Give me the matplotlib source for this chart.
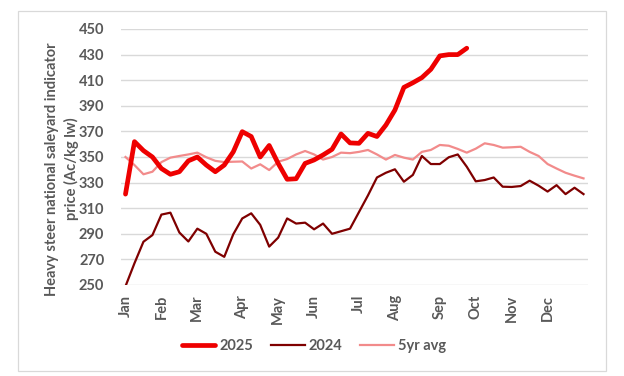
import matplotlib
matplotlib.use("Agg")
import matplotlib.pyplot as plt
from matplotlib.patches import Rectangle

# ---- data ----
months = ["Jan", "Feb", "Mar", "Apr", "May", "Jun", "Jul", "Aug", "Sep", "Oct", "Nov", "Dec"]
month_week_index = [0, 4, 8, 13, 17, 21, 26, 30, 35, 39, 43, 47]

y2025 = [321, 362, 355, 350, 341, 336.5, 338.5, 347, 350, 343.7, 338.5, 343.7, 354,
         369.8, 366, 350, 359, 345, 332.6, 333, 345, 347.7, 351.6, 356, 368, 361,
         360.7, 368.5, 366, 375, 386.7, 404.4, 408, 412, 418.5, 429, 430, 430, 435]

y2024 = [249, 267, 283.8, 289, 305, 306.5, 291, 284, 294, 290, 276, 272, 289.6,
         302, 306, 297, 280, 287, 302, 298, 298.7, 293.5, 298, 290, 292, 294,
         307, 320, 334, 337.7, 340.4, 330.7, 336, 350.8, 344.5, 344.5, 349.8, 352,
         342.4, 331, 332, 334, 326.8, 326.6, 327.3, 331.5, 327.6, 323, 328, 321,
         326, 321]

avg5 = [350, 343.7, 336.5, 338.5, 346, 349.5, 350.8, 352, 353.4, 349.8, 347, 346,
        346.3, 346.5, 341, 344.3, 339.8, 346.3, 348.4, 352, 354.7, 352, 348, 350,
        353.4, 353, 354, 355.5, 352, 348, 351.6, 349.5, 348, 354, 355.5, 359.4,
        358.8, 356.3, 353.4, 356.5, 360.7, 359.4, 357.3, 357.6, 358, 354, 350.8,
        344.5, 341, 337.7, 335.4, 333.3]

y_ticks = [250, 270, 290, 310, 330, 350, 370, 390, 410, 430, 450]
series_labels = ["2025", "2024", "5yr avg"]

# ---- style ----
txt_col = "#595959"
grid_col = "#d9d9d9"
font = ["Lato", "DejaVu Sans"]
plt.rcParams["font.family"] = font

fig = plt.figure(figsize=(6.24, 3.76), dpi=100)
fig.patches.append(Rectangle((18 / 624, 1 - 371 / 376), (606 - 18) / 624, (371 - 11) / 376,
                             transform=fig.transFigure, fill=False,
                             edgecolor=grid_col, linewidth=0.9))

ax = fig.add_axes([121 / 624, 1 - 285 / 376, (588 - 121) / 624, (285 - 29) / 376])

l3, = ax.plot(range(len(avg5)), avg5, color="#F28B8B", lw=1.6, solid_joinstyle="round")
l2, = ax.plot(range(len(y2024)), y2024, color="#7F0000", lw=1.6, solid_joinstyle="round")
l1, = ax.plot(range(len(y2025)), y2025, color="#EE0000", lw=3.4, solid_joinstyle="round",
              solid_capstyle="round")

ax.set_xlim(-0.5, 51.5)
ax.set_ylim(250, 450)
ax.set_yticks(y_ticks)
ax.set_xticks(month_week_index)
ax.set_xticklabels(months, rotation=90)
ax.tick_params(axis="both", length=0, colors=txt_col, labelsize=10.5)
ax.tick_params(axis="y", pad=12)
ax.tick_params(axis="x", pad=7)
for lab in ax.get_xticklabels() + ax.get_yticklabels():
    lab.set_fontweight("bold")
    lab.set_color(txt_col)

ax.grid(axis="y", color=grid_col, lw=1)
ax.set_axisbelow(True)
for s in ax.spines.values():
    s.set_visible(False)

fig.text(62 / 624, 1 - 169 / 376,
         "Heavy steer national saleyard indicator\nprice (Ac/kg lw)",
         rotation=90, ha="center", va="center", fontsize=10.5, fontweight="bold",
         color=txt_col, linespacing=1.35)

leg = fig.legend([l1, l2, l3], series_labels, loc="center", bbox_to_anchor=(314 / 624, 1 - 346 / 376),
                 ncol=3, frameon=False, handlelength=2.3, columnspacing=1.2, handletextpad=0.3,
                 prop={"weight": "bold", "size": 10.5})
for t in leg.get_texts():
    t.set_color(txt_col)

fig.savefig("out.png", dpi=100)
